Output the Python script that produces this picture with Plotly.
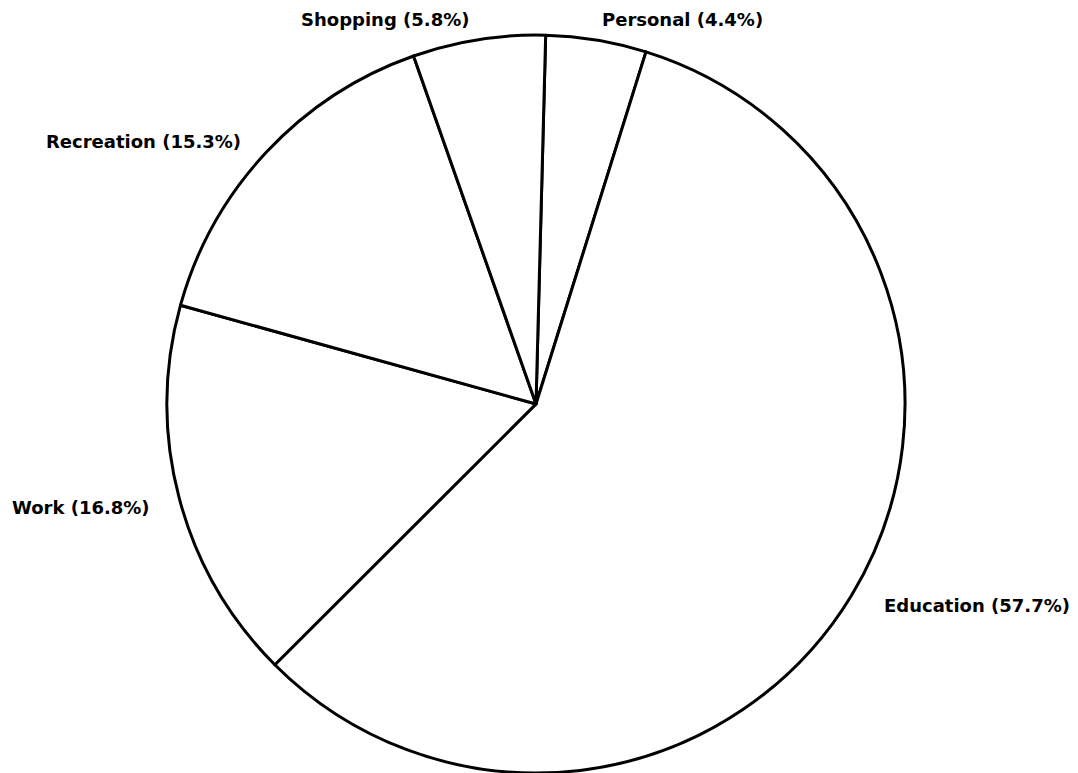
import plotly.graph_objects as go

categories = ["Personal", "Education", "Work", "Recreation", "Shopping"]
percentages = [4.4, 57.7, 16.8, 15.3, 5.8]

# label centre positions in page pixels (x, y from top) for the outside labels
label_px = {
    "Personal": (682, 20),
    "Education": (977, 605),
    "Work": (81, 507),
    "Recreation": (143, 142),
    "Shopping": (385, 20),
}

W, H = 1078, 773
OFF = 8  # page offset of the plot div (body margin)

fig = go.Figure(
    go.Pie(
        labels=categories,
        values=percentages,
        sort=False,
        direction="clockwise",
        rotation=1.5,
        textinfo="none",
        hoverinfo="label+percent",
        marker=dict(colors=["white"] * len(categories), line=dict(color="black", width=3)),
        domain=dict(x=[0.1, 0.8796], y=[0.0103, 0.965]),
        showlegend=False,
    )
)

annotations = []
for cat, pct in zip(categories, percentages):
    px, py = label_px[cat]
    annotations.append(
        dict(
            text=f"{cat} ({pct}%)",
            x=(px - OFF) / W,
            y=1 - (py - OFF) / H,
            xref="paper",
            yref="paper",
            xanchor="center",
            yanchor="middle",
            showarrow=False,
            font=dict(family="DejaVu Sans", size=18, color="black", weight="bold"),
        )
    )

fig.update_layout(
    width=W,
    height=H,
    margin=dict(l=0, r=0, t=0, b=0),
    paper_bgcolor="white",
    plot_bgcolor="white",
    annotations=annotations,
)

fig.write_html("out.html")
